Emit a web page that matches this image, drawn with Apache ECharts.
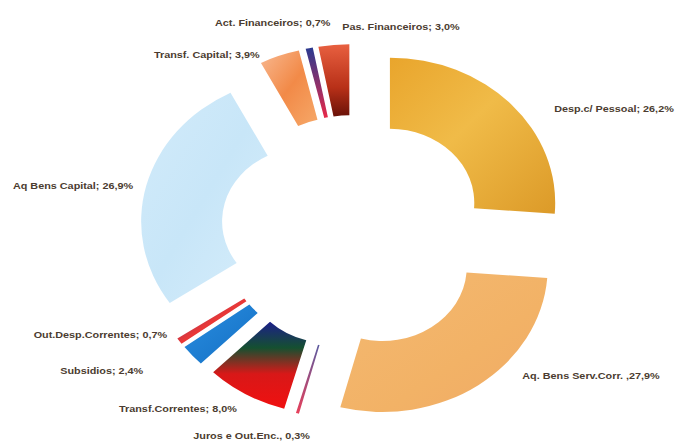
<!DOCTYPE html>
<html>
<head>
<meta charset="utf-8">
<script src="https://cdn.jsdelivr.net/npm/echarts@6/dist/echarts.min.js"></script>
<style>
  html, body { margin: 0; padding: 0; background: #ffffff; overflow: hidden; }
  #wrap { width: 675px; height: 443px; overflow: hidden; }
  #main { width: 592px; height: 443px; transform: scaleX(1.14); transform-origin: 0 0; }
</style>
</head>
<body>
<div id="wrap"><div id="main"></div></div>
<script>
// ---- data ----
const categories = ['Desp.c/ Pessoal', 'Aq. Bens Serv.Corr.', 'Juros e Out.Enc.', 'Transf.Correntes', 'Subsidios',
  'Out.Desp.Correntes', 'Aq Bens Capital', 'Transf. Capital', 'Act. Financeiros', 'Pas. Financeiros'];
const shares = [26.2, 27.9, 0.3, 8.0, 2.4, 0.7, 26.9, 3.9, 0.7, 3.0];
const separators = ['; ', ' ,', ', ', '; ', '; ', '; ', '; ', '; ', '; ', '; '];

// ---- styling (not data) ----
const G = echarts.graphic.LinearGradient;
const colors = [
  new G(0, 0, 1, 1, [{offset: 0, color: '#e9a52c'}, {offset: 0.45, color: '#f0bb48'}, {offset: 1, color: '#dc9a28'}]),
  new G(0, 0, 1, 1, [{offset: 0, color: '#f4b972'}, {offset: 0.6, color: '#f2b266'}, {offset: 1, color: '#f0aa66'}]),
  new G(0, 0, 0, 1, [{offset: 0, color: '#5a5aa0'}, {offset: 1, color: '#e8405a'}]),
  new G(0, 0, 0, 1, [{offset: 0, color: '#1c1f8a'}, {offset: 0.3, color: '#155030'}, {offset: 0.6, color: '#d81818'}, {offset: 1, color: '#f01010'}]),
  new G(0, 0, 1, 1, [{offset: 0, color: '#2a8ee0'}, {offset: 0.7, color: '#1a78cc'}, {offset: 1, color: '#1a3a9a'}]),
  new G(0, 0, 1, 1, [{offset: 0, color: '#30308a'}, {offset: 0.5, color: '#e83838'}, {offset: 1, color: '#f02828'}]),
  new G(0, 0, 1, 1, [{offset: 0, color: '#d2ebfa'}, {offset: 0.5, color: '#c8e6f8'}, {offset: 1, color: '#d6edfb'}]),
  new G(0, 0, 1, 1, [{offset: 0, color: '#f8b890'}, {offset: 0.5, color: '#f28a48'}, {offset: 1, color: '#f6a868'}]),
  new G(0, 0, 0, 1, [{offset: 0, color: '#2a3a90'}, {offset: 1, color: '#e82848'}]),
  new G(0, 0, 0, 1, [{offset: 0, color: '#e86040'}, {offset: 0.6, color: '#b83018'}, {offset: 1, color: '#6a1208'}])
];
// label line lengths (radial, horizontal) used to place each label, plus small vertical nudges
const lineLen = [[1, 32], [1, 33], [23, -22], [16, -5], [24, 20], [1, 5], [1, 5.5], [1, 12], [26, -29], [18, -117]];
const nudgeY = [5, -10, 0, 0, 0, -7, 0, 0, 0, 0];

const chart = echarts.init(document.getElementById('main'), null, {renderer: 'svg'});
chart.setOption({
  animation: false,
  backgroundColor: '#ffffff',
  series: [{
    type: 'pie',
    center: [310.5, 232],
    radius: [74, 145],
    startAngle: 90,
    clockwise: true,
    selectedMode: 'multiple',
    selectedOffset: 43,
    avoidLabelOverlap: false,
    emphasis: {disabled: true},
    label: {
      show: true,
      position: 'outside',
      color: '#4b3c30',
      fontSize: 9.5,
      fontWeight: 'bold',
      distanceToLabelLine: 5,
      fontFamily: 'Liberation Sans, Arial, sans-serif',
      formatter: p => p.name + separators[p.dataIndex] + shares[p.dataIndex].toFixed(1).replace('.', ',') + '%'
    },
    labelLine: {show: false},
    labelLayout: p => ({dy: nudgeY[p.dataIndex]}),
    data: categories.map((c, i) => ({
      name: c,
      value: shares[i],
      selected: true,
      itemStyle: {color: colors[i]},
      labelLine: {show: false, length: lineLen[i][0], length2: lineLen[i][1]}
    }))
  }]
});
</script>
</body>
</html>
